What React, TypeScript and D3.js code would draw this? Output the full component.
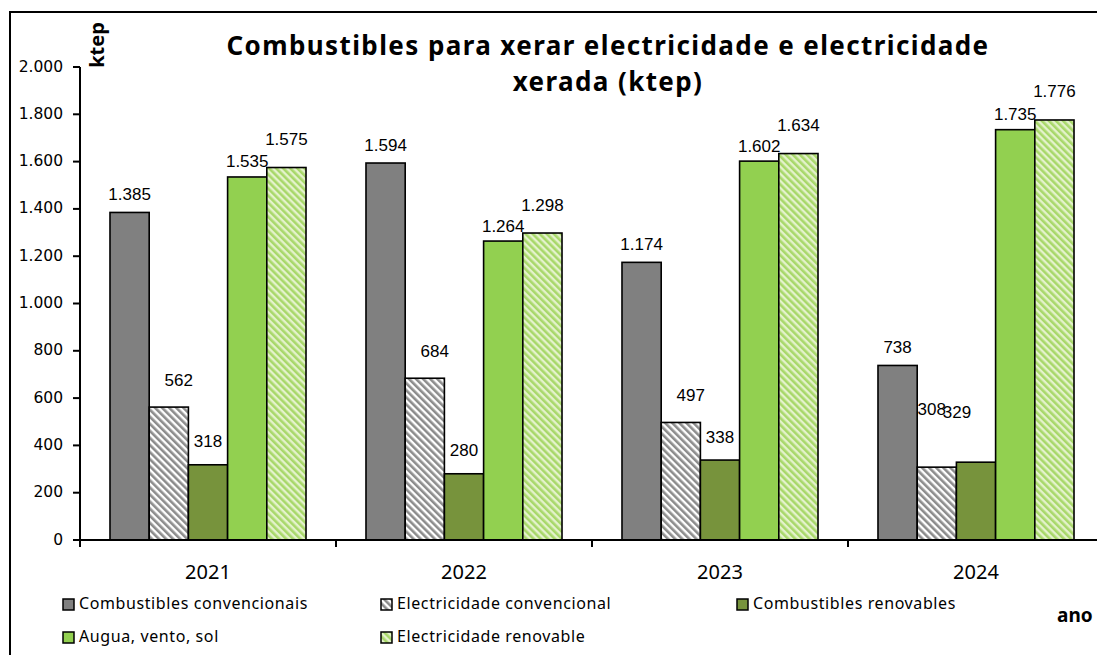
import * as d3 from "d3";

const years = ["2021", "2022", "2023", "2024"];
const seriesNames = [
  "Combustibles convencionais",
  "Electricidade convencional",
  "Combustibles renovables",
  "Augua, vento, sol",
  "Electricidade renovable",
];
const combConv = [1385, 1594, 1174, 738];
const elecConv = [562, 684, 497, 308];
const combRen = [318, 280, 338, 329];
const auguaVentoSol = [1535, 1264, 1602, 1735];
const elecRen = [1575, 1298, 1634, 1776];
const yTicks = [0, 200, 400, 600, 800, 1000, 1200, 1400, 1600, 1800, 2000];

const seriesValues = [combConv, elecConv, combRen, auguaVentoSol, elecRen];

const fills = [
  "#808080",
  "url(#hatchGray)",
  "#77933C",
  "#92D050",
  "url(#hatchGreen)",
];

// label nudges (Excel labels were dragged around a bit)
const labelDy = [-17, -26, -22, -14, -27];
const labelDx = [0, 10, 0, 0, 0];
const labelOverride: Record<string, [number, number]> = {
  "3-1": [-5, -57],
  "3-2": [-19, -49],
};

const fmt = d3.formatLocale({
  decimal: ",",
  thousands: ".",
  grouping: [3],
  currency: ["", "€"],
}).format(",d");

const W = 1097;
const H = 655;
const left = 80;
const right = 1104;
const top = 67;
const bottom = 540;

const legendCols = [63, 381, 737];
const legendRows = [605, 638];

export default function App() {
  const x0 = d3.scaleBand().domain(years).range([left, right]);
  const x1 = d3
    .scaleBand()
    .domain(seriesNames)
    .range([0, x0.bandwidth()])
    .paddingInner(0)
    .paddingOuter(0.765);
  const y = d3.scaleLinear().domain([0, 2000]).range([bottom, top]);

  const legendPos = seriesNames.map((_, i) => ({
    x: legendCols[i % 3],
    y: legendRows[Math.floor(i / 3)],
  }));

  return (
    <svg
      width={W}
      height={H}
      style={{ position: "absolute", left: 0, top: 0, background: "#fff" }}
    >
      <defs>
        <pattern
          id="hatchGray"
          width="5"
          height="5"
          patternUnits="userSpaceOnUse"
          patternTransform="rotate(-45)"
        >
          <rect width="5" height="5" fill="#ffffff" />
          <rect width="2.6" height="5" fill="#8c8c8c" />
        </pattern>
        <pattern
          id="hatchGreen"
          width="5"
          height="5"
          patternUnits="userSpaceOnUse"
          patternTransform="rotate(-45)"
        >
          <rect width="5" height="5" fill="#e4f2cc" />
          <rect width="2.6" height="5" fill="#a8d86a" />
        </pattern>
      </defs>

      <rect x={10} y={12} width={1200} height={700} fill="none" stroke="#000" strokeWidth={2} />

      <g fontFamily="Noto Sans" fontWeight="bold" fontSize={26} letterSpacing={1.4} textAnchor="middle">
        <text x={608} y={55}>
          Combustibles para xerar electricidade e electricidade
        </text>
        <text x={608} y={91}>
          xerada (ktep)
        </text>
      </g>

      <text
        transform="translate(104,45) rotate(-90)"
        textAnchor="middle"
        fontFamily="Noto Sans"
        fontWeight="bold"
        fontSize={20}
      >
        ktep
      </text>

      {years.map((yr, yi) => (
        <g key={yr}>
          {seriesNames.map((s, si) => {
            const v = seriesValues[si][yi];
            const bx = (x0(yr) ?? 0) + (x1(s) ?? 0);
            return (
              <rect
                key={s}
                x={bx}
                y={y(v)}
                width={x1.bandwidth()}
                height={y(0) - y(v)}
                fill={fills[si]}
                stroke="#000"
                strokeWidth={1.6}
              />
            );
          })}
        </g>
      ))}

      {years.map((yr, yi) =>
        seriesNames.map((s, si) => {
          const v = seriesValues[si][yi];
          const cx = (x0(yr) ?? 0) + (x1(s) ?? 0) + x1.bandwidth() / 2;
          const o = labelOverride[`${yi}-${si}`];
          const dx = o ? o[0] : labelDx[si];
          const dy = o ? o[1] : labelDy[si];
          return (
            <text
              key={`${yr}-${s}`}
              x={cx + dx}
              y={y(v) + dy}
              textAnchor="middle"
              dominantBaseline="middle"
              fontFamily="Liberation Sans, Arial"
              fontSize={17}
              fill="#000"
            >
              {fmt(v)}
            </text>
          );
        })
      )}

      {/* y axis */}
      <line x1={left} x2={left} y1={top} y2={bottom + 7} stroke="#000" strokeWidth={2} />
      {yTicks.map((t) => (
        <g key={t}>
          <line x1={left - 7} x2={left} y1={y(t)} y2={y(t)} stroke="#000" strokeWidth={2} />
          <text
            x={left - 17}
            y={y(t)}
            textAnchor="end"
            dominantBaseline="middle"
            fontFamily="DejaVu Sans"
            fontSize={15.5}
          >
            {fmt(t)}
          </text>
        </g>
      ))}

      {/* x axis */}
      <line x1={left} x2={right} y1={bottom} y2={bottom} stroke="#000" strokeWidth={2} />
      {years.map((yr) => (
        <g key={yr}>
          <line
            x1={(x0(yr) ?? 0) + x0.bandwidth()}
            x2={(x0(yr) ?? 0) + x0.bandwidth()}
            y1={bottom}
            y2={bottom + 7}
            stroke="#000"
            strokeWidth={2}
          />
          <text
            x={(x0(yr) ?? 0) + x0.bandwidth() / 2}
            y={579}
            textAnchor="middle"
            fontFamily="Noto Sans"
            fontSize={20}
          >
            {yr}
          </text>
        </g>
      ))}

      <text x={1057} y={622} fontFamily="Noto Sans" fontWeight="bold" fontSize={19}>
        ano
      </text>

      {seriesNames.map((s, i) => (
        <g key={s} transform={`translate(${legendPos[i].x},${legendPos[i].y})`}>
          <rect
            x={0}
            y={-6}
            width={11}
            height={11}
            fill={fills[i]}
            stroke="#000"
            strokeWidth={1.5}
          />
          <text
            x={16}
            y={0}
            dominantBaseline="middle"
            fontFamily="Noto Sans"
            fontSize={16}
            letterSpacing={0.6}
          >
            {s}
          </text>
        </g>
      ))}
    </svg>
  );
}
